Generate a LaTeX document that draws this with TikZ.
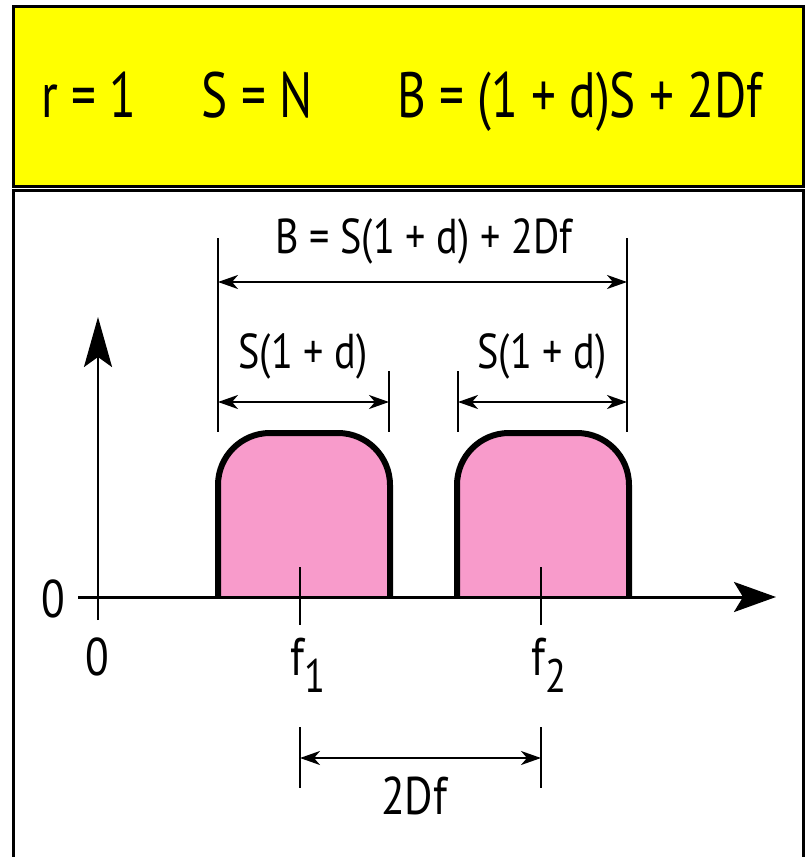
\documentclass[tikz,border=0pt]{standalone}
\usepackage{fontspec}
\setmainfont[FakeStretch=0.82]{PT Sans}
\newfontfamily\hdrfont[FakeStretch=0.77]{PT Sans}
\usetikzlibrary{arrows.meta}
\definecolor{hdryellow}{HTML}{FFFF00}
\definecolor{pulsepink}{HTML}{F89BCB}
\tikzset{
  frame/.style={draw=black,line width=3pt},
  pulse/.style={fill=pulsepink,draw=black,line width=6pt,rounded corners=52pt},
  axis/.style={draw=black,line width=3pt},
  ext/.style={draw=black,line width=2pt},
  dim/.style={draw=black,line width=2pt,{Stealth[length=20pt,width=14pt,inset=6pt]}-{Stealth[length=20pt,width=14pt,inset=6pt]}},
  hdr/.style={font=\hdrfont\fontsize{64}{66}\selectfont,inner sep=0pt,anchor=base},
  lbl/.style={font=\fontsize{49}{52}\selectfont,inner sep=0pt},
  axlbl/.style={font=\fontsize{53}{56}\selectfont,inner sep=0pt}
}
\newcommand{\subl}[1]{\raisebox{-0.32em}{\fontsize{47}{48}\selectfont #1}}
\begin{document}
\begin{tikzpicture}[x=1pt,y=-1pt]
\useasboundingbox (0,0) rectangle (808,857);
\clip (0,0) rectangle (808,857);
% frames
\path[frame,fill=hdryellow] (13,6) rectangle (803,186);
\path[frame,fill=white] (13,190) rectangle (803,900);
% header texts
\node[hdr] (r) at (89,117) {r = 1};
\node[hdr] (s) at (257,117) {S = N};
\node[hdr] (b) at (580,117) {B = (1 + d)S + 2Df};
% pulses
\path[pulse] (218,597) -- (218,433) -- (390,433) -- (390,597);
\path[pulse] (457,597) -- (457,433) -- (629,433) -- (629,597);
% axes
\coordinate (xend) at (776,597);
\coordinate (yend) at (98,317);
\coordinate (xstart) at (78,597);
\coordinate (ybot) at (98,620);
\path[axis,-{Stealth[length=42pt,width=30pt,inset=9pt]}] (xstart) -- (xend);
\path[draw=black,line width=2.5pt,-{Stealth[length=50pt,width=28pt,inset=10pt]}] (ybot) -- (yend);
% center ticks
\coordinate (f1t) at (300,567);
\coordinate (f1b) at (300,625);
\coordinate (f2t) at (541,567);
\coordinate (f2b) at (541,625);
\path[draw=black,line width=2.5pt] (f1t) -- (f1b);
\path[draw=black,line width=2.5pt] (f2t) -- (f2b);
% axis labels
\node[axlbl] (zy) at (53,599) {0};
\node[axlbl] (zx) at (97,657) {0};
\node[axlbl,anchor=north] (f1) at (308,638) {f\subl{1}};
\node[axlbl,anchor=north] (f2) at (549,638) {f\subl{2}};
% top dimension
\coordinate (e1t) at (218,238);
\coordinate (e1b) at (218,432);
\coordinate (e2t) at (627,238);
\coordinate (e2b) at (627,432);
\path[ext] (e1t) -- (e1b);
\path[ext] (e2t) -- (e2b);
\coordinate (a1) at (218,282);
\coordinate (a2) at (627,282);
\path[dim] (a1) -- (a2);
\node[lbl] (bl) at (424,241) {B = S(1 + d) + 2Df};
% left pulse dimension
\coordinate (e3t) at (389,371);
\coordinate (e3b) at (389,432);
\path[ext] (e3t) -- (e3b);
\coordinate (a3) at (218,402);
\coordinate (a4) at (389,402);
\path[dim] (a3) -- (a4);
\node[lbl] (sl1) at (303,356) {S(1 + d)};
% right pulse dimension
\coordinate (e4t) at (458,371);
\coordinate (e4b) at (458,432);
\path[ext] (e4t) -- (e4b);
\coordinate (a5) at (458,402);
\coordinate (a6) at (627,402);
\path[dim] (a5) -- (a6);
\node[lbl] (sl2) at (542,356) {S(1 +\ d)};
% bottom dimension
\coordinate (e5t) at (300,727);
\coordinate (e5b) at (300,788);
\coordinate (e6t) at (541,727);
\coordinate (e6b) at (541,788);
\path[ext] (e5t) -- (e5b);
\path[ext] (e6t) -- (e6b);
\coordinate (a7) at (300,758);
\coordinate (a8) at (541,758);
\path[dim] (a7) -- (a8);
\node[axlbl] (df) at (414,796) {2Df};
\end{tikzpicture}
\end{document}
